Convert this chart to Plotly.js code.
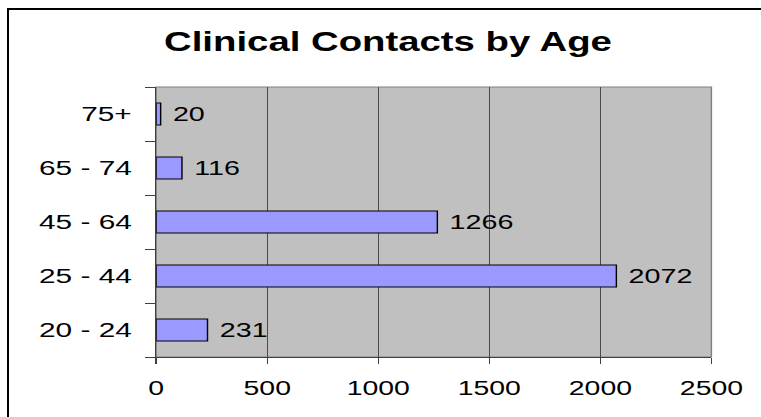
<!DOCTYPE html>
<html>
<head>
<meta charset="utf-8">
<script src="https://cdn.plot.ly/plotly-3.0.1.min.js"></script>
<style>
  html, body { margin: 0; padding: 0; width: 761px; height: 417px; overflow: hidden; background: #fff; }
  #wrap { position: absolute; left: 0; top: 0; transform-origin: 0 0; }
  #frame { position: absolute; left: 7px; top: 8px; width: 2000px; height: 2000px;
           border-left: 2px solid #000; border-top: 2px solid #000; pointer-events: none; }
</style>
</head>
<body>
<div id="wrap"><div id="chart"></div></div>
<div id="frame"></div>
<script>
const categories = ["20 - 24", "25 - 44", "45 - 64", "65 - 74", "75+"];
const contacts = [231, 2072, 1266, 116, 20];
const xTicks = [0, 500, 1000, 1500, 2000, 2500];
const chartTitle = "Clinical Contacts by Age";

const S = 1.42;            // horizontal stretch of the original picture
const W = 761 / S, H = 417;
document.getElementById('wrap').style.transform = 'scaleX(' + S + ')';
const FONT = 'Liberation Sans, Arial, sans-serif';

const trace = {
  type: 'bar',
  orientation: 'h',
  y: categories,
  x: contacts,
  text: contacts.map(String),
  texttemplate: ' %{text}',
  textposition: 'outside',
  cliponaxis: false,
  textfont: { family: FONT, size: 21, color: '#000' },
  marker: { color: '#9999ff', line: { color: '#000', width: 1 } },
  hoverinfo: 'none'
};

const layout = {
  width: W, height: H,
  margin: { l: 156 / S, r: 49 / S, t: 87, b: 60 },
  paper_bgcolor: '#fff',
  plot_bgcolor: '#c0c0c0',
  showlegend: false,
  bargap: 0.59,
  font: { family: FONT, color: '#000' },
  title: {
    text: chartTitle,
    font: { family: FONT, size: 27, color: '#000', weight: 'bold' },
    xref: 'container', x: 388 / 761, xanchor: 'center',
    yref: 'container', y: 1 - 42 / 417, yanchor: 'middle'
  },
  xaxis: {
    range: [0, 2500],
    tickvals: xTicks,
    ticktext: xTicks.map(String),
    showgrid: true, gridcolor: '#4a4a4a', gridwidth: 1,
    zeroline: false,
    showline: true, linecolor: '#404040', linewidth: 1,
    ticks: 'outside', ticklen: 6, tickcolor: '#404040', tickwidth: 1,
    ticklabelstandoff: 7,
    tickfont: { family: FONT, size: 20, color: '#000' },
    fixedrange: true
  },
  yaxis: {
    type: 'category',
    categoryorder: 'array', categoryarray: categories,
    showgrid: false, zeroline: false,
    showline: true, linecolor: '#404040', linewidth: 1,
    ticks: 'outside', tickson: 'boundaries', ticklen: 7, tickcolor: '#404040', tickwidth: 1,
    ticklabelstandoff: 12,
    tickfont: { family: FONT, size: 21, color: '#000' },
    fixedrange: true
  },
  shapes: [{
    type: 'rect', xref: 'paper', yref: 'paper', x0: 0, x1: 1, y0: 0, y1: 1,
    line: { color: '#808080', width: 1 }, layer: 'below'
  }]
};

Plotly.newPlot('chart', [trace], layout, { staticPlot: true, displayModeBar: false });
</script>
</body>
</html>
